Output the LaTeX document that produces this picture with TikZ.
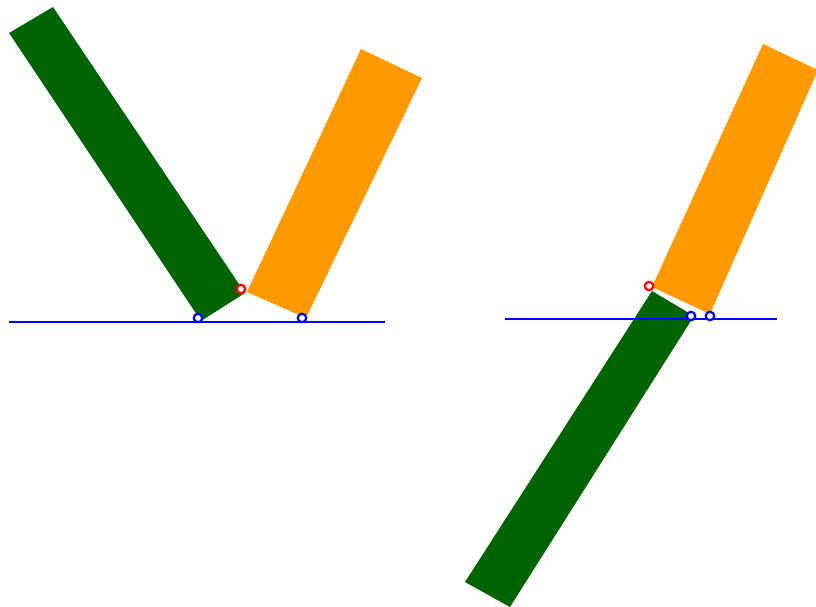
\documentclass[tikz,border=0pt]{standalone}
\usepackage{xcolor}
\usepackage{tikz}

\definecolor{linkgreen}{RGB}{0,100,0}
\definecolor{linkorange}{RGB}{255,153,0}

\begin{document}
\begin{tikzpicture}[
    x=1pt, y=-1pt,
    greenbar/.style={fill=linkgreen, draw=none},
    orangebar/.style={fill=linkorange, draw=none},
    ground/.style={draw=blue, line width=2.4pt},
    fixedjoint/.style={circle, draw=blue, fill=white, line width=2.2pt, inner sep=0pt, minimum size=8.5pt},
    freejoint/.style={circle, draw=red, fill=white, line width=2.2pt, inner sep=0pt, minimum size=8.5pt}
]
\useasboundingbox (0,0) rectangle (816,607);

% left configuration
\fill[greenbar] (9,33) -- (53,7) -- (245,293) -- (201,321) -- cycle;
\fill[orangebar] (247,292) -- (361,49) -- (422,78) -- (306,318) -- cycle;
\coordinate (gl1) at (9,322);
\coordinate (gl2) at (385,322);
\draw[ground] (gl1) -- (gl2);
\node[fixedjoint] (pa) at (198,318) {};
\node[fixedjoint] (pb) at (302,318) {};
\node[freejoint] (pc) at (241,289) {};

% right configuration
\fill[greenbar] (652,291) -- (694,316) -- (510,607) -- (465,582) -- cycle;
\fill[orangebar] (652,287) -- (763,44) -- (818,70) -- (710,314) -- cycle;
\coordinate (gr1) at (505,319);
\coordinate (gr2) at (777,319);
\draw[ground] (gr1) -- (gr2);
\node[fixedjoint] (qa) at (691,316) {};
\node[fixedjoint] (qb) at (710,316) {};
\node[freejoint] (qc) at (649,286) {};

\end{tikzpicture}
\end{document}
